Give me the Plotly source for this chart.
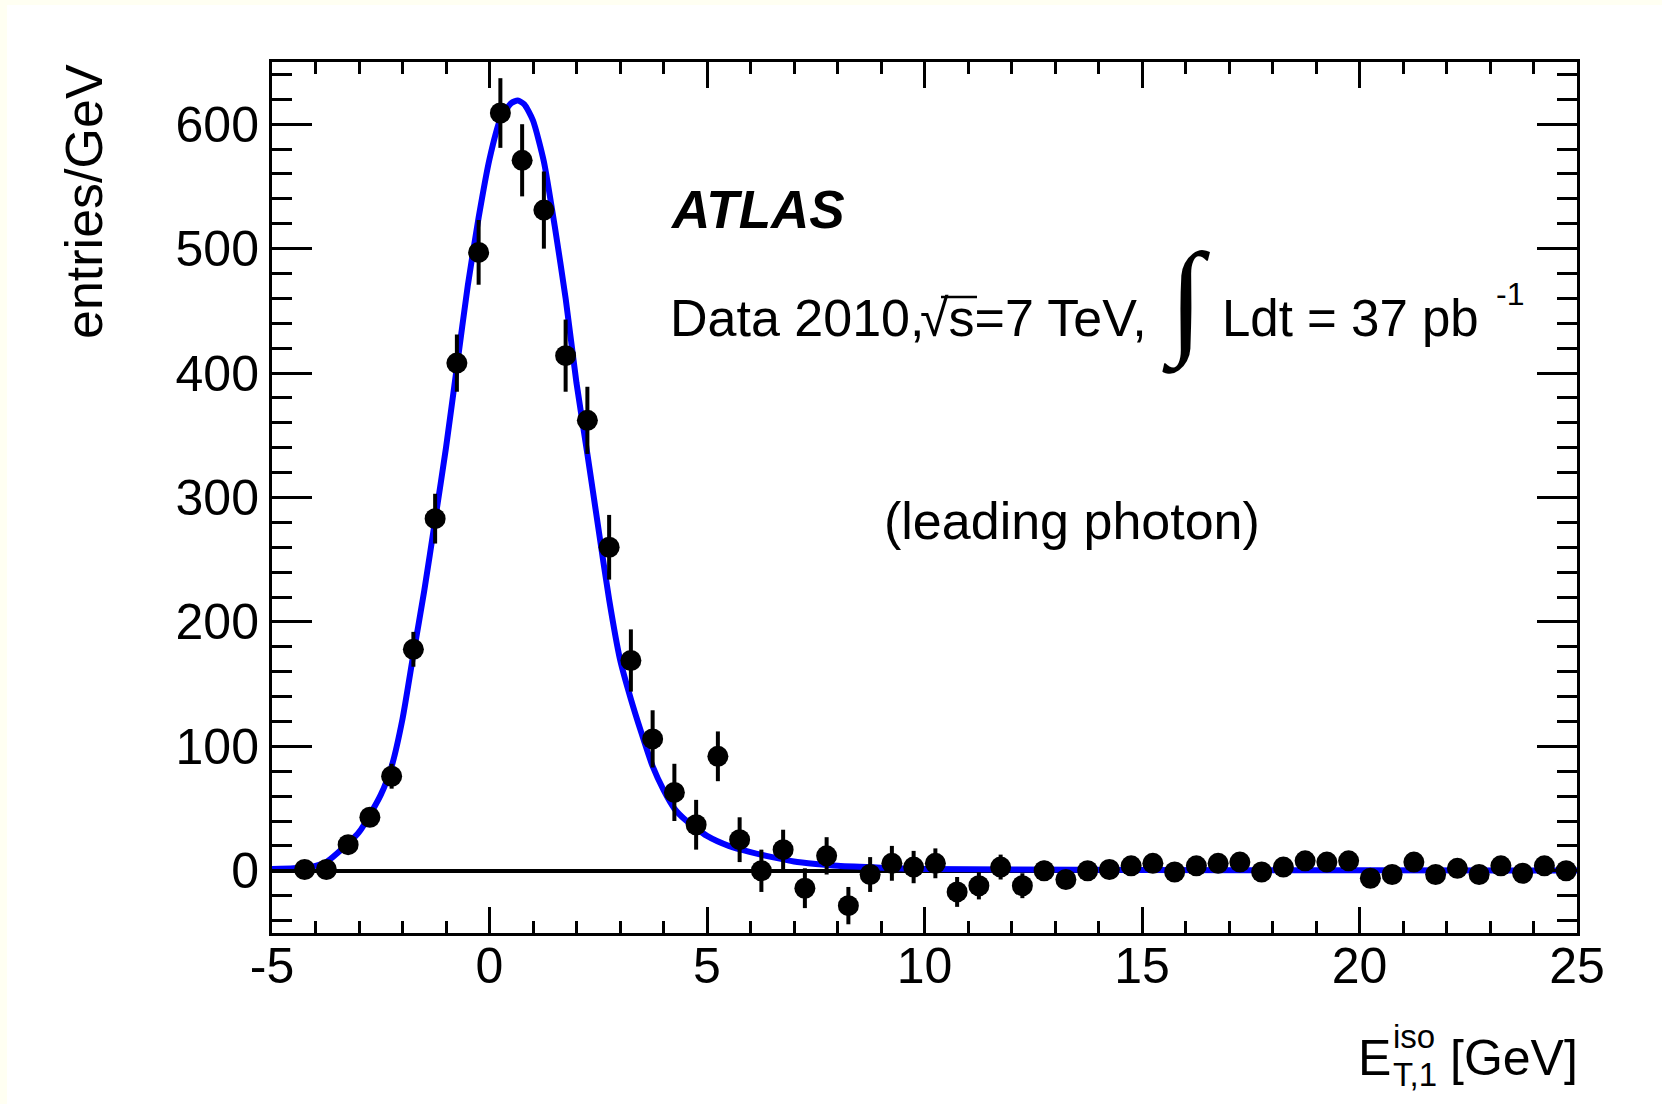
import plotly.graph_objects as go

# ---------------- data ----------------
bin_centers = [-4.25, -3.75, -3.25, -2.75, -2.25, -1.75, -1.25, -0.75, -0.25, 0.25,
               0.75, 1.25, 1.75, 2.25, 2.75, 3.25, 3.75, 4.25, 4.75, 5.25,
               5.75, 6.25, 6.75, 7.25, 7.75, 8.25, 8.75, 9.25, 9.75, 10.25,
               10.75, 11.25, 11.75, 12.25, 12.75, 13.25, 13.75, 14.25, 14.75, 15.25,
               15.75, 16.25, 16.75, 17.25, 17.75, 18.25, 18.75, 19.25, 19.75, 20.25,
               20.75, 21.25, 21.75, 22.25, 22.75, 23.25, 23.75, 24.25, 24.75]
entries = [1, 1, 21, 43, 76, 178, 283, 408, 497, 609,
           571, 531, 414, 362, 260, 169, 106, 63, 37, 92,
           25, 0, 17, -14, 12, -28, -3, 6, 3, 6,
           -17, -12, 3, -12, 0, -7, 0, 1, 4, 6,
           -1, 4, 6, 7, -1, 3, 8, 7, 8, -6,
           -3, 7, -3, 2, -3, 4, -2, 4, 0]
errors = [3, 3, 5, 7, 10, 14, 20, 23, 26, 28,
          29, 31, 29, 27, 26, 25, 23, 23, 20, 20,
          18, 17, 16, 16, 15, 15, 14, 14, 13, 12,
          12, 11, 10, 10, 8, 7, 6, 6, 6, 6,
          5, 5, 5, 5, 5, 5, 5, 5, 5, 5,
          5, 5, 5, 5, 5, 5, 5, 5, 5]

fit_x = [-5.0, -4.5, -4.0, -3.75, -3.5, -3.0, -2.5, -2.25, -2.0, -1.75,
         -1.5, -1.25, -1.0, -0.75, -0.5, -0.25, 0.0, 0.25, 0.5, 0.65,
         0.8, 1.0, 1.25, 1.5, 1.75, 2.0, 2.25, 2.5, 2.75, 3.0,
         3.25, 3.5, 3.75, 4.0, 4.25, 4.5, 5.0, 5.5, 6.0, 6.5,
         7.0, 7.5, 8.0, 9.0, 10.0, 12.0, 15.0, 20.0, 25.0]
fit_y = [1.5, 2, 4, 7, 14, 31, 61, 84, 122, 174,
         225, 282, 340, 405, 470, 525, 572, 604, 617, 619,
         616, 603, 570, 518, 460, 392, 335, 276, 218, 170,
         138, 110, 84, 65, 50, 41, 28, 20, 15, 11,
         7.5, 5.5, 4, 2.5, 1.5, 1, 0.6, 0.4, 0.3]

x_tickvals = [-5, 0, 5, 10, 15, 20, 25]
x_ticktext = ["-5", "0", "5", "10", "15", "20", "25"]
y_tickvals = [0, 100, 200, 300, 400, 500, 600]
y_ticktext = ["0", "100", "200", "300", "400", "500", "600"]

# ---------------- layout geometry (pixels) ----------------
FIG_W, FIG_H = 1662, 1104
L, R, T, B = 272, 1577, 62, 933
W, H = R - L, B - T


def px(xp):
    return (xp - L) / W


def py(yp):
    return (B - yp) / H


FONT = "Liberation Sans, Arial, Helvetica, sans-serif"
CREAM = "#FFFFF2"

fig = go.Figure()

fig.add_trace(go.Scatter(
    x=fit_x, y=fit_y, mode="lines",
    line=dict(color="#0000FF", width=6, shape="spline", smoothing=0.6),
    hoverinfo="skip", showlegend=False))

fig.add_trace(go.Scatter(
    x=bin_centers, y=entries, mode="markers",
    marker=dict(color="black", size=21, line=dict(width=0)),
    error_y=dict(type="data", array=errors, visible=True, color="black",
                 thickness=4, width=0),
    showlegend=False))

axis_common = dict(
    showline=True, linecolor="black", linewidth=3, mirror="ticks",
    ticks="inside", tickcolor="black", tickwidth=3,
    showgrid=False,
    tickfont=dict(family=FONT, size=50, color="black"),
)

fig.update_xaxes(
    range=[-5, 25], tickmode="array", tickvals=x_tickvals, ticktext=x_ticktext,
    ticklen=26, zeroline=False, ticklabelstandoff=-13,
    minor=dict(ticks="inside", ticklen=12, tickwidth=3, tickcolor="black", dtick=1, tick0=0,
               showgrid=False),
    **axis_common)
fig.update_yaxes(
    range=[-50, 650], tickmode="array", tickvals=y_tickvals, ticktext=y_ticktext,
    ticklen=40, zeroline=True, zerolinecolor="black", zerolinewidth=3.5,
    minor=dict(ticks="inside", ticklen=20, tickwidth=3, tickcolor="black", dtick=20, tick0=0,
               showgrid=False),
    **axis_common)

annotations = []


def ann(text, xp, yp, size=50, xanchor="left", yanchor="middle", family=FONT, angle=0):
    annotations.append(dict(
        text=text, x=px(xp), y=py(yp), xref="paper", yref="paper",
        xanchor=xanchor, yanchor=yanchor, showarrow=False, textangle=angle,
        font=dict(family=family, size=size, color="black")))


ann("<b><i>ATLAS</i></b>", 668, 209, size=53)
ann("Data 2010,", 668, 318, size=52)
ann("\u221As=7 TeV,", 918, 318, size=52)
ann("\u222B", 1186, 301, size=126, xanchor="center", family="Liberation Serif, serif")
ann("Ldt = 37 pb", 1220, 318, size=51)
ann("-1", 1494, 294, size=32)
ann("(leading photon)", 882, 521, size=52)
ann("entries/GeV", 84, 202, size=52, angle=-90, xanchor="center")
ann("E", 1356, 1058)
ann("iso", 1391, 1036, size=33)
ann("T,1", 1391, 1074, size=33)
ann("[GeV]", 1580, 1058, xanchor="right")

shapes = [
    dict(type="rect", xref="paper", yref="paper", x0=px(0), x1=px(7), y0=py(FIG_H), y1=py(0),
         fillcolor=CREAM, line=dict(width=0), layer="below"),
    dict(type="rect", xref="paper", yref="paper", x0=px(0), x1=px(FIG_W), y0=py(5), y1=py(0),
         fillcolor=CREAM, line=dict(width=0), layer="below"),
    # overline of the square root
    dict(type="line", xref="paper", yref="paper", x0=px(941), x1=px(977), y0=py(297), y1=py(297),
         line=dict(color="black", width=2.5)),
]

fig.update_layout(
    width=FIG_W, height=FIG_H,
    margin=dict(l=L, r=FIG_W - R, t=T, b=FIG_H - B, pad=0),
    paper_bgcolor="white", plot_bgcolor="white",
    font=dict(family=FONT, color="black"),
    annotations=annotations, shapes=shapes,
    showlegend=False,
)

fig.write_html("out.html", config={"displayModeBar": False},
               post_script="document.body.style.margin='0';document.body.style.overflow='hidden';")
